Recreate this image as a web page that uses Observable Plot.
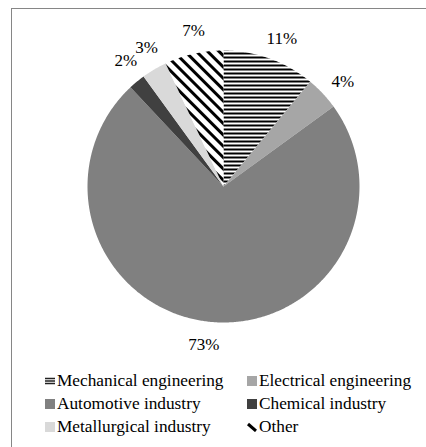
<!DOCTYPE html>
<html><head><meta charset="utf-8">
<script src="https://cdn.jsdelivr.net/npm/d3@7"></script>
<script src="https://cdn.jsdelivr.net/npm/@observablehq/plot@0.6"></script>
<style>
body{margin:0;background:#fff;font-family:"Liberation Serif",Tinos,"Times New Roman","DejaVu Serif",serif;}
#wrap{position:relative;width:426px;height:447px;overflow:hidden;background:#fff;}
#frame{position:absolute;left:11px;top:8px;width:500px;height:500px;border-top:1px solid #868686;border-left:1px solid #868686;}
#chart{position:absolute;left:0;top:0;}
.leg{position:absolute;display:flex;align-items:center;font-size:17.3px;line-height:18px;color:#000;white-space:nowrap;}
.sw{width:10px;height:10px;margin-right:2px;display:block;}
</style></head><body>
<svg width="0" height="0" style="position:absolute">
<defs>
<pattern id="hstripes" patternUnits="userSpaceOnUse" width="4" height="4"><rect width="4" height="4" fill="#fff"/><rect width="4" height="2" fill="#000"/></pattern>
<pattern id="dstripes" patternUnits="userSpaceOnUse" width="8" height="8" patternTransform="rotate(45)"><rect width="8" height="8" fill="#fff"/><rect width="8" height="3" fill="#000"/></pattern>
</defs></svg>
<div id="wrap"><div id="frame"></div><div id="chart"></div><div id="legend"></div></div>
<script>
const categories = ["Mechanical engineering","Electrical engineering","Automotive industry","Chemical industry","Metallurgical industry","Other"];
const shares = [11, 4, 73, 2, 3, 7];
const labels = ["11%","4%","73%","2%","3%","7%"];
const palette = ["url(#hstripes)","#a6a6a6","#808080","#404040","#d9d9d9","url(#dstripes)"];

const FONT = '"Liberation Serif", Tinos, "Times New Roman", "DejaVu Serif", serif';
const W = 426, H = 362, R = 136, cx = 223, cy = 186;
const rows = categories.map((c,i)=>({name:c, share:shares[i], label:labels[i], fill:palette[i]}));
const arcs = d3.pie().sort(null).value(d=>d.share)(rows);

const poly = [];
arcs.forEach(a=>{
  const n = Math.max(2, Math.ceil((a.endAngle-a.startAngle)/(Math.PI/360)));
  poly.push({name:a.data.name, fill:a.data.fill, x:0, y:0});
  for(let k=0;k<=n;k++){
    const t = a.startAngle + (a.endAngle-a.startAngle)*k/n;
    poly.push({name:a.data.name, fill:a.data.fill, x:Math.sin(t), y:Math.cos(t)});
  }
});
const lr = 1.17;
const labs = arcs.map(a=>{const m=(a.startAngle+a.endAngle)/2 + 0.03; return {text:a.data.label, x:lr*Math.sin(m), y:lr*Math.cos(m)};});

const chart = Plot.plot({
  width: W, height: H, margin: 0,
  x: {domain:[-cx/R,(W-cx)/R], axis:null},
  y: {domain:[-(H-cy)/R, cy/R], axis:null},
  color: {type:"identity"},
  style: {background:"transparent", fontFamily: FONT},
  marks: [
    Plot.line(poly, {x:"x", y:"y", z:"name", fill:"fill", stroke:"none", curve:"linear-closed"}),
    Plot.text(labs, {x:"x", y:"y", text:"text", fontSize:17, fontFamily:FONT, fill:"#000"})
  ]
});
document.getElementById("chart").appendChild(chart);

const swatch = (i)=>{
  if(i===0) return '<svg class="sw" viewBox="0 0 10 10"><path d="M0,2.5H10M0,5H10M0,7.5H10" stroke="#222" stroke-width="1.3"/></svg>';
  if(i===5) return '<svg class="sw" viewBox="0 0 10 10"><path d="M1,2L9,9" stroke="#000" stroke-width="3"/></svg>';
  return `<svg class="sw" viewBox="0 0 10 10"><rect width="10" height="10" fill="${palette[i]}"/></svg>`;
};
const colX = [45, 247], rowY = [372, 395, 418];
const leg = document.getElementById("legend");
categories.forEach((c,i)=>{
  const d = document.createElement("div");
  d.className = "leg";
  d.style.left = colX[i%2]+"px";
  d.style.top = rowY[Math.floor(i/2)]+"px";
  d.innerHTML = swatch(i)+"<span>"+c+"</span>";
  leg.appendChild(d);
});
</script></body></html>
